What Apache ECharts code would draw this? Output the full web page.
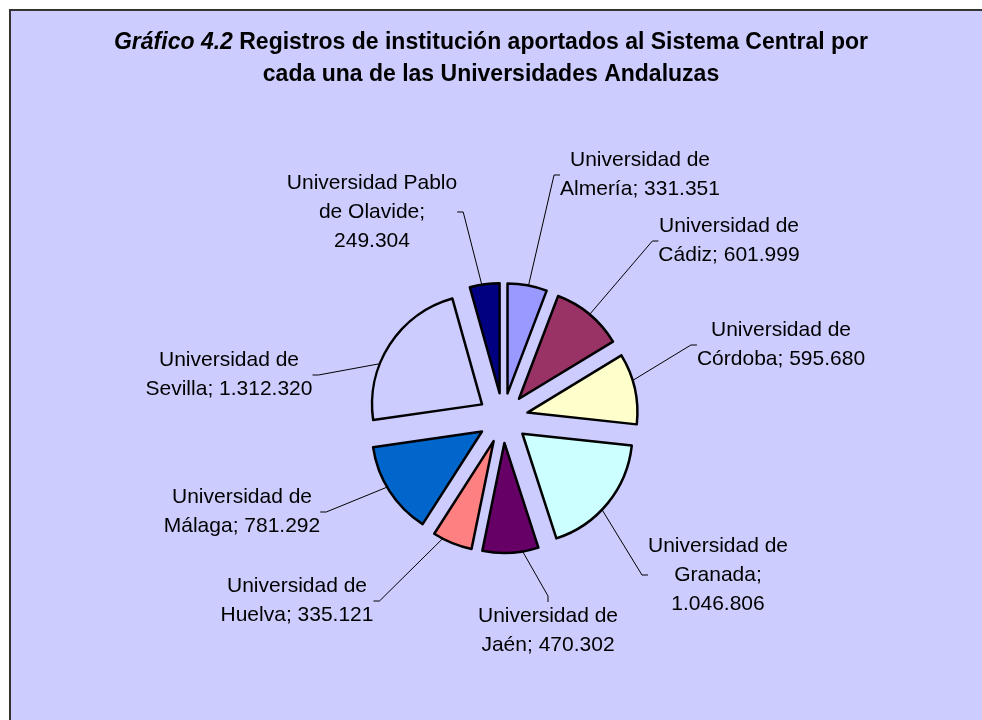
<!DOCTYPE html>
<html>
<head>
<meta charset="utf-8">
<title>Gráfico 4.2</title>
<script src="https://cdn.jsdelivr.net/npm/echarts@6.0.0/dist/echarts.min.js"></script>
<style>
    html, body { margin: 0; padding: 0; background: #fff; }
    #main { width: 982px; height: 720px; }
</style>
</head>
<body>
<div id="main"></div>
<script>
// datos del gráfico
var names = ['Universidad de Almería', 'Universidad de Cádiz', 'Universidad de Córdoba',
    'Universidad de Granada', 'Universidad de Jaén', 'Universidad de Huelva',
    'Universidad de Málaga', 'Universidad de Sevilla', 'Universidad Pablo de Olavide'];
var values = [331351, 601999, 595680, 1046806, 470302, 335121, 781292, 1312320, 249304];
var colors = ['#9999FF', '#993366', '#FFFFCC', '#CCFFFF', '#660066', '#FF8080', '#0066CC', '#CCCCFF', '#000080'];
// etiquetas con el valor en una tercera línea
var valueOwnLine = ['Universidad de Granada', 'Universidad Pablo de Olavide'];

// posición (centro) de cada etiqueta
var labelPos = [[640, 175], [729, 241], [781, 345], [718, 575], [548, 631],
    [297, 601], [242, 512], [229, 375], [372, 212]];

var pieCenter = [503, 418];
var pieRadius = 110;

function fmt(v) {
    return String(v).replace(/\B(?=(\d{3})+(?!\d))/g, '.');
}

function labelText(i) {
    var v = fmt(values[i]);
    var head = 'Universidad de';
    var rest = names[i].replace('Universidad de ', '');
    if (names[i].indexOf('Pablo') > 0) {
        head = 'Universidad Pablo';
        rest = 'de Olavide';
    }
    var sep = valueOwnLine.indexOf(names[i]) >= 0 ? ';\n' : '; ';
    return head + '\n' + rest + sep + v;
}

var pieData = [];
var labelData = [];
for (var i = 0; i < names.length; i++) {
    pieData.push({
        name: names[i],
        value: values[i],
        selected: true,
        itemStyle: { color: colors[i] }
    });
    labelData.push({ name: names[i], value: values[i] });
}

var chart = echarts.init(document.getElementById('main'));
var option = {
    backgroundColor: '#ffffff',
    animation: false,
    graphic: [{
        type: 'rect',
        z: -10,
        shape: { x: 10, y: 10, width: 990, height: 730 },
        style: { fill: '#CCCCFF', stroke: '#333333', lineWidth: 2 }
    }],
    title: {
        text: '{i|Gráfico 4.2} Registros de institución aportados al Sistema Central por\ncada una de las Universidades Andaluzas',
        left: 491,
        top: 27,
        padding: 0,
        textAlign: 'center',
        textStyle: {
            fontFamily: 'Liberation Sans',
            fontSize: 23,
            fontWeight: 'bold',
            color: '#000',
            lineHeight: 32,
            rich: {
                i: {
                    fontFamily: 'Liberation Sans',
                    fontSize: 23,
                    fontWeight: 'bold',
                    fontStyle: 'italic',
                    color: '#000',
                    lineHeight: 32
                }
            }
        }
    },
    series: [{
        // sectores separados
        type: 'pie',
        z: 3,
        center: pieCenter,
        radius: pieRadius,
        startAngle: 90,
        clockwise: true,
        selectedMode: 'multiple',
        selectedOffset: 25,
        emphasis: { disabled: true },
        itemStyle: { borderColor: '#000', borderWidth: 2.5 },
        label: { show: false },
        labelLine: { show: false },
        data: pieData
    }, {
        // solo etiquetas y líneas guía (debajo de los sectores)
        type: 'pie',
        z: 2,
        center: pieCenter,
        radius: pieRadius,
        startAngle: 90,
        clockwise: true,
        silent: true,
        avoidLabelOverlap: false,
        emphasis: { disabled: true },
        itemStyle: { color: 'rgba(0,0,0,0)', borderWidth: 0 },
        label: {
            show: true,
            position: 'outside',
            formatter: function(p) { return labelText(p.dataIndex); },
            fontFamily: 'Liberation Sans',
            fontSize: 21,
            lineHeight: 29,
            color: '#000',
            align: 'center'
        },
        labelLine: {
            show: true,
            length: 20,
            length2: 6,
            lineStyle: { color: '#000', width: 1 }
        },
        labelLayout: function(params) {
            var p = labelPos[params.dataIndex];
            return { x: p[0], y: p[1], align: 'center', verticalAlign: 'middle' };
        },
        data: labelData
    }]
};
chart.setOption(option);
</script>
</body>
</html>
